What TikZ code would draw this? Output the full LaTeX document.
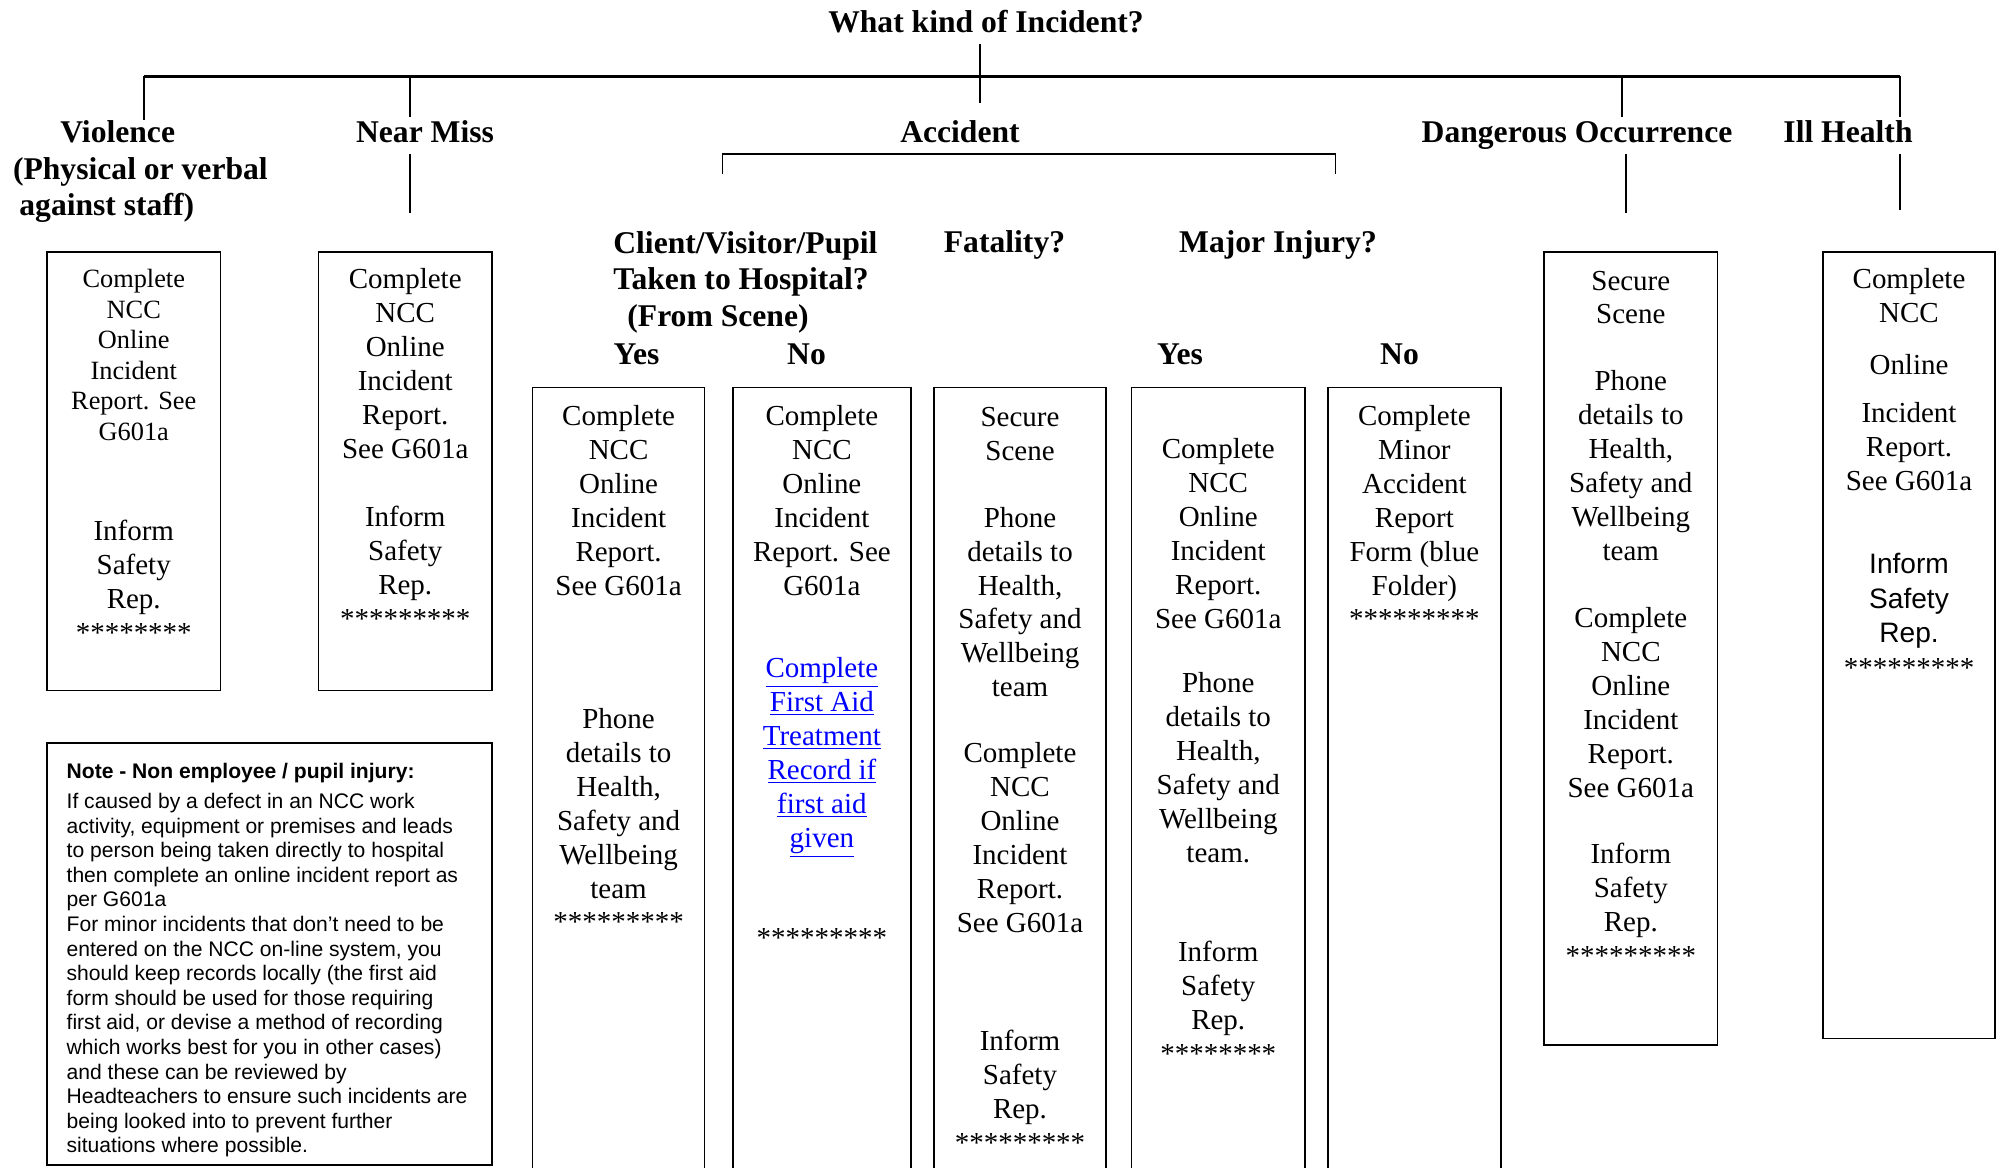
\documentclass[tikz,border=0pt]{standalone}
\usepackage{fontspec}
\setmainfont{Liberation Serif}
\setsansfont{Liberation Sans}
\definecolor{linkblue}{RGB}{0,0,255}
\tikzset{
  head/.style = {
    font=\fontsize{18}{20.7}\selectfont\bfseries,
    inner sep=0pt,
    execute at begin node=\strut
  },
  boxtxt/.style = {
    align=center, anchor=north, inner sep=0pt,
    font=\fontsize{16.5}{19.3}\selectfont,
    execute at begin node=\strut
  },
  box/.style = {line width=1pt},
  link/.style = {line width=0.8pt},
  bus/.style = {line width=1.3pt}
}
\newcommand{\fa}[1]{\textcolor{linkblue}{\underline{#1}}}

\begin{document}
\begin{tikzpicture}[x=0.02cm,y=-0.02cm]
  \useasboundingbox (0,0) rectangle (1998,1168);
  % top of the tree
  \node[head, anchor=base] (title) at (986,33) {What kind of Incident?};
  \coordinate (trunk) at (980,103);
  \coordinate (busL) at (144,76.5);
  \coordinate (busR) at (1900,76.5);
  \coordinate (missTop) at (410,76.5);
  \coordinate (dangTop) at (1622,76.5);
  \draw[link] (title.south -| trunk) -- (trunk);
  \draw[bus] (busL) -- (busR);
  % kinds of incident
  \node[head, anchor=north west, align=left] (vio) at (12.7,120.5)
    {\hspace*{26.9pt}Violence\\(Physical or verbal\\\hspace*{3.6pt}against staff)};
  \node[head, anchor=base] (miss) at (425,143) {Near Miss};
  \node[head, anchor=base] (acc) at (960,143) {Accident};
  \node[head, anchor=base] (dang) at (1577,143) {Dangerous Occurrence};
  \node[head, anchor=base] (ill) at (1848,143) {Ill Health};
  \draw[link] (busL) -- (busL |- vio.north);
  \draw[link] (missTop) -- (missTop |- miss.north);
  \draw[link] (dangTop) -- (dangTop |- dang.north);
  \draw[link] (busR) -- (busR |- ill.north);
  % lines down to the boxes
  \coordinate (missLow) at (410,213);
  \coordinate (dangLow) at (1626,213);
  \coordinate (illLow) at (1900,210);
  \draw[link] (miss.south -| missLow) -- (missLow);
  \draw[link] (dang.south -| dangLow) -- (dangLow);
  \draw[link] (ill.south -| illLow) -- (illLow);
  % accident bracket
  \coordinate (accL) at (722.5,174.5);
  \coordinate (accR) at (1335.5,174.5);
  \draw[link, line width=1.1pt] (accL) |- (acc.south) -| (accR);
  % accident questions
  \node[head, anchor=north west, align=left] (hosp) at (613,231)
    {Client/Visitor/Pupil\\Taken to Hospital?\\\hspace*{8pt}(From Scene)};
  \node[head, anchor=base] (fatal) at (1004.5,253) {Fatality?};
  \node[head, anchor=base] (major) at (1278,253) {Major Injury?};
  \node[head, anchor=base] (hospYes) at (636.5,365) {Yes};
  \node[head, anchor=base] (hospNo) at (806.5,365) {No};
  \node[head, anchor=base] (majorYes) at (1180,365) {Yes};
  \node[head, anchor=base] (majorNo) at (1399.5,365) {No};
  % boxes
  \foreach \xa/\ya/\xb/\yb in {47/252/220.5/690.6, 318.5/252/492/690.6,
      1544/252/1717.6/1045, 1823/252/1995/1038.5, 47/743/492/1165}
    \draw[box] (\xa,\ya) rectangle (\xb,\yb);
  % boxes running off the page
  \foreach \xa/\xb in {532.6/704.6, 732.7/911, 934/1106, 1131.5/1305, 1327.7/1501}
    \draw[box] (\xa,1168) |- (\xb,387.4) -- (\xb,1168);
  % box texts
  \node[boxtxt, font=\fontsize{15}{17.4}\selectfont] (vioTxtA) at (133.75,269)
    {Complete\\NCC\\Online\\Incident\\Report. See\\G601a};
  \node[boxtxt] (vioTxtB) at (133.75,520) {Inform\\Safety\\Rep.\\********};
  \node[boxtxt] (missTxt) at (405.25,268)
    {Complete\\NCC\\Online\\Incident\\Report.\\See G601a\\[19.8pt]Inform\\Safety\\Rep.\\*********};
  \node[boxtxt] (yesTxt) at (618.6,405)
    {Complete\\NCC\\Online\\Incident\\Report.\\See G601a\\[56.7pt]Phone\\details to\\Health,\\Safety and\\Wellbeing\\team\\*********};
  \node[boxtxt] (noTxt) at (821.9,405)
    {Complete\\NCC\\Online\\Incident\\Report. See\\G601a\\[27.8pt]\fa{Complete}\\\fa{First Aid}\\\fa{Treatment}\\\fa{Record if}\\\fa{first aid}\\\fa{given}\\[37.8pt]*********};
  \node[boxtxt] (fatalTxt) at (1020,407)
    {Secure\\Scene\\[18.7pt]Phone\\details to\\Health,\\Safety and\\Wellbeing\\team\\[18.3pt]Complete\\NCC\\Online\\Incident\\Report.\\See G601a\\[48pt]Inform\\Safety\\Rep.\\*********};
  \node[boxtxt] (majorYesTxt) at (1218.25,438)
    {Complete\\NCC\\Online\\Incident\\Report.\\See G601a\\[17.6pt]Phone\\details to\\Health,\\Safety and\\Wellbeing\\team.\\[37.1pt]Inform\\Safety\\Rep.\\********};
  \node[boxtxt] (majorNoTxt) at (1414.4,405)
    {Complete\\Minor\\Accident\\Report\\Form (blue\\Folder)\\*********};
  \node[boxtxt] (dangTxt) at (1630.8,270.5)
    {Secure\\Scene\\[18.7pt]Phone\\details to\\Health,\\Safety and\\Wellbeing\\team\\[19pt]Complete\\NCC\\Online\\Incident\\Report.\\See G601a\\[18.6pt]Inform\\Safety\\Rep.\\*********};
  \node[boxtxt] (illTxtA) at (1909,268.5)
    {Complete\\NCC\\[10pt]Online\\[8.2pt]Incident\\Report.\\See G601a};
  \node[boxtxt, font=\sffamily\fontsize{16}{19.6}\selectfont] (illTxtB) at (1909,553)
    {Inform\\Safety\\Rep.\\{\rmfamily\fontsize{16.5}{19.3}\selectfont *********}};
  % note
  \node[anchor=north west, align=left, inner sep=0pt,
        font=\sffamily\fontsize{12}{14}\selectfont,
        execute at begin node=\strut] (note) at (66.3,762.5)
    {\textbf{Note - Non employee / pupil injury:}\\[3.3pt]
     If caused by a defect in an NCC work\\
     activity, equipment or premises and leads\\
     to person being taken directly to hospital\\
     then complete an online incident report as\\
     per G601a\\
     For minor incidents that don’t need to be\\
     entered on the NCC on-line system, you\\
     should keep records locally (the first aid\\
     form should be used for those requiring\\
     first aid, or devise a method of recording\\
     which works best for you in other cases)\\
     and these can be reviewed by\\
     Headteachers to ensure such incidents are\\
     being looked into to prevent further\\
     situations where possible.};
\end{tikzpicture}
\end{document}
